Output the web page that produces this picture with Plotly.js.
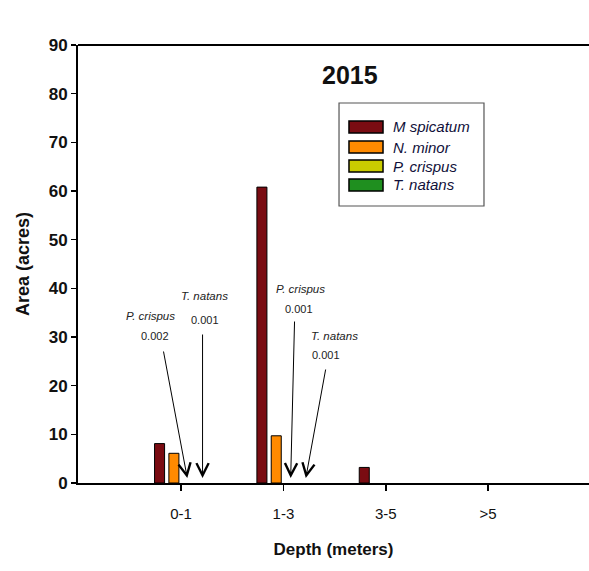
<!DOCTYPE html>
<html>
<head>
<meta charset="utf-8">
<script src="https://cdn.plot.ly/plotly-3.0.1.min.js"></script>
<style>html,body{margin:0;padding:0;background:#fff;}#chart{width:589px;height:571px;}</style>
</head>
<body>
<div id="chart"></div>
<script>
// ---- data ----
const categories = ["0-1", "1-3", "3-5", ">5"];
const seriesNames = ["M spicatum", "N. minor", "P. crispus", "T. natans"];
const seriesColors = ["#7a0c12", "#ff8a00", "#c9cc00", "#1f8f1f"];
const mSpicatum = [8.1, 60.8, 3.2, 0];
const nMinor = [6.1, 9.7, 0, 0];
const pCrispus = [0.002, 0.001, 0, 0];
const tNatans = [0.001, 0.001, 0, 0];
const seriesValues = [mSpicatum, nMinor, pCrispus, tNatans];
const yTicks = [0, 10, 20, 30, 40, 50, 60, 70, 80, 90];

// callouts for tiny values: [seriesIndex, categoryIndex]
const callouts = [[2, 0], [3, 0], [2, 1], [3, 1]];
// pixel offsets of arrow tail and labels (layout only)
const calloutLayout = [
  {ax: -25, ay: -133, nx: -38, ny: 167, vx: -33, vy: 147},
  {ax: 0, ay: -150, nx: 2, ny: 187, vx: 2, vy: 163},
  {ax: 4, ay: -163, nx: 10, ny: 194, vx: 8, vy: 174},
  {ax: 21, ay: -115, nx: 30, ny: 147, vx: 21, vy: 128}
];

const font = "'Liberation Sans', Arial, sans-serif";

const bargap = 0.44;
const nSeries = seriesNames.length;

const traces = seriesNames.map((name, i) => ({
  type: 'bar',
  name: name,
  x: categories,
  y: seriesValues[i],
  marker: {
    color: seriesColors[i],
    line: {color: '#000', width: seriesValues[i].map(v => (v > 0.01 ? 1 : 0))}
  },
  showlegend: false,
  hoverinfo: 'skip'
}));

const annotations = [];
const slot = (1 - bargap) / nSeries;
callouts.forEach(([s, c], k) => {
  const xpos = c + (s - (nSeries - 1) / 2) * slot;
  const L = calloutLayout[k];
  annotations.push({
    x: xpos, y: 0, xref: 'x', yref: 'y', text: '', showarrow: true,
    ax: L.ax, ay: L.ay, arrowhead: 5, arrowsize: 2.4, arrowwidth: 1,
    arrowcolor: '#000', standoff: 5
  });
  annotations.push({
    x: xpos, y: 0, xref: 'x', yref: 'y', text: '<i>' + seriesNames[s] + '</i>',
    showarrow: false, xshift: L.nx, yshift: L.ny,
    font: {family: font, size: 11.5, color: '#222'}
  });
  annotations.push({
    x: xpos, y: 0, xref: 'x', yref: 'y', text: String(seriesValues[s][c]),
    showarrow: false, xshift: L.vx, yshift: L.vy,
    font: {family: font, size: 11, color: '#222'}
  });
});

// custom legend
const shapes = [{
  type: 'rect', xref: 'paper', yref: 'paper',
  x0: 0.5108, x1: 0.7945, y0: 0.6324, y1: 0.8676,
  line: {color: '#555', width: 1.2}, fillcolor: 'rgba(0,0,0,0)'
}];
const rowY = [0.8128, 0.7671, 0.7237, 0.6804];
seriesNames.forEach((name, i) => {
  shapes.push({
    type: 'rect', xref: 'paper', yref: 'paper',
    x0: 0.5303, x1: 0.5969, y0: rowY[i] - 0.0137, y1: rowY[i] + 0.0137,
    line: {color: '#000', width: 1.5}, fillcolor: seriesColors[i]
  });
  annotations.push({
    xref: 'paper', yref: 'paper', x: 0.6125, y: rowY[i],
    xanchor: 'left', yanchor: 'middle', showarrow: false,
    text: '<i>' + name + '</i>',
    font: {family: font, size: 15, color: '#10103a'}
  });
});

// top frame line
shapes.push({type: 'line', xref: 'paper', yref: 'paper', x0: 0, x1: 1, y0: 1, y1: 1, line: {color: '#000', width: 2}});

const layout = {
  width: 589, height: 571,
  paper_bgcolor: '#fff', plot_bgcolor: '#fff',
  margin: {l: 78, r: 0, t: 45, b: 88},
  barmode: 'group', bargap: bargap, bargroupgap: 0.3,
  title: {
    text: '<b>2015</b>', x: 0.594, xref: 'container', xanchor: 'center',
    y: 0.869, yref: 'container', yanchor: 'middle',
    font: {family: font, size: 25, color: '#111'}
  },
  xaxis: {
    type: 'category', range: [-1.007, 3.986],
    showline: true, linecolor: '#000', linewidth: 2,
    ticks: 'outside', ticklen: 6, tickwidth: 1.5, tickcolor: '#000',
    showgrid: false, zeroline: false,
    ticklabelstandoff: 10,
    tickfont: {family: font, size: 15, color: '#111'},
    title: {text: '<b>Depth (meters)</b>', font: {family: font, size: 17, color: '#111'}, standoff: 22},
    automargin: false
  },
  yaxis: {
    range: [0, 90], tickvals: yTicks,
    showline: true, linecolor: '#000', linewidth: 2,
    ticks: 'outside', ticklen: 5, tickwidth: 1.5, tickcolor: '#000',
    showgrid: false, zeroline: false,
    tickfont: {family: font, size: 17, color: '#111', weight: 'bold'},
    title: {text: '<b>Area (acres)</b>', font: {family: font, size: 18, color: '#111'}, standoff: 14},
    automargin: false
  },
  shapes: shapes,
  annotations: annotations,
  showlegend: false
};

Plotly.newPlot('chart', traces, layout, {displayModeBar: false, staticPlot: true});
</script>
</body>
</html>
